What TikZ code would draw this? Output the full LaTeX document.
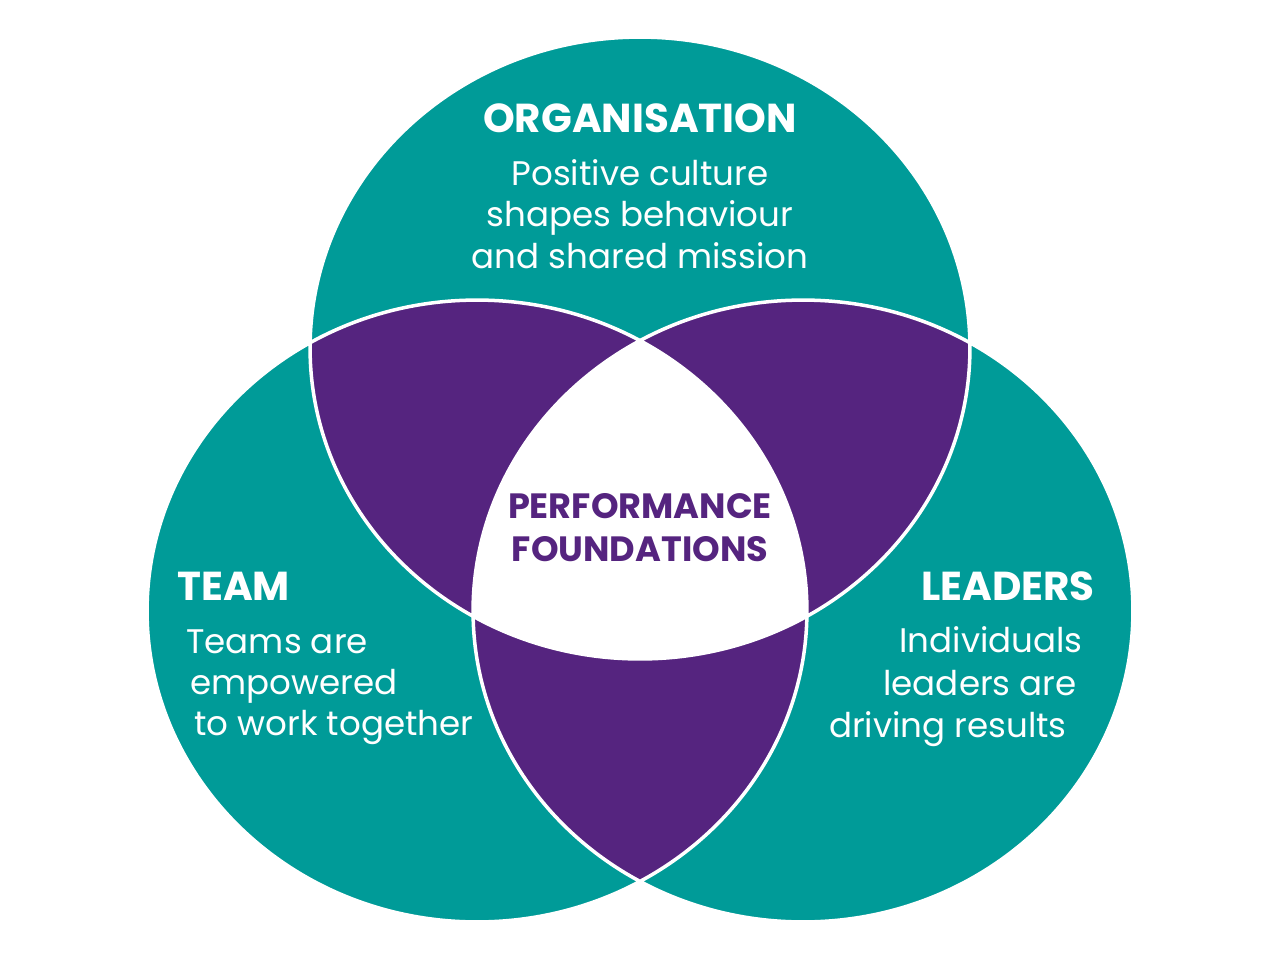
\documentclass[tikz,border=0pt]{standalone}
\usepackage{fontspec}
\setmainfont{Poppins}
\definecolor{tealc}{HTML}{009B98}
\definecolor{purpc}{HTML}{55247F}
\begin{document}
\begin{tikzpicture}[x=0.02cm,y=-0.02cm,
  oval/.style={x radius=6.6cm, y radius=6.22cm},
  head/.style={text=white, inner sep=0pt, font=\bfseries\fontsize{23}{27}\selectfont},
  body/.style={text=white, inner sep=0pt, font=\fontsize{19.4}{23}\selectfont},
  core/.style={text=purpc, inner sep=0pt, font=\bfseries\fontsize{20}{24}\selectfont}]
\useasboundingbox (0,0) rectangle (1280,960);
\coordinate (T) at (640,348);
\coordinate (L) at (477,611);
\coordinate (R) at (803,611);
% circles
\fill[tealc] (T) ellipse [oval] (L) ellipse [oval] (R) ellipse [oval];
\begin{scope}
  \clip (T) ellipse [oval];
  \fill[purpc] (L) ellipse [oval] (R) ellipse [oval];
\end{scope}
\begin{scope}
  \clip (L) ellipse [oval];
  \fill[purpc] (R) ellipse [oval];
\end{scope}
\begin{scope}
  \clip (T) ellipse [oval];
  \clip (L) ellipse [oval];
  \fill[white] (R) ellipse [oval];
\end{scope}
\draw[white, line width=2pt] (T) ellipse [oval] (L) ellipse [oval] (R) ellipse [oval];
% texts
\node[head, anchor=base] (org) at (640,132) {ORGANISATION};
\node[body, anchor=base] (org1) at (640,185) {Positive culture};
\node[body, anchor=base] (org2) at (640,226) {shapes behaviour};
\node[body, anchor=base] (org3) at (640,268) {and shared mission};
\node[core, anchor=base] (pf1) at (640,518) {PERFORMANCE};
\node[core, anchor=base] (pf2) at (640,561) {FOUNDATIONS};
\node[head, anchor=base west] (team) at (177,600) {TEAM};
\node[body, anchor=base west] (team1) at (186,653) {Teams are};
\node[body, anchor=base west] (team2) at (190,694) {empowered};
\node[body, anchor=base west] (team3) at (194,735) {to work together};
\node[head, anchor=base east] (lead) at (1095,600) {LEADERS};
\node[body, anchor=base east] (lead1) at (1083,652) {Individuals};
\node[body, anchor=base east] (lead2) at (1077,695) {leaders are};
\node[body, anchor=base east] (lead3) at (1067,737) {driving results};
\end{tikzpicture}
\end{document}
